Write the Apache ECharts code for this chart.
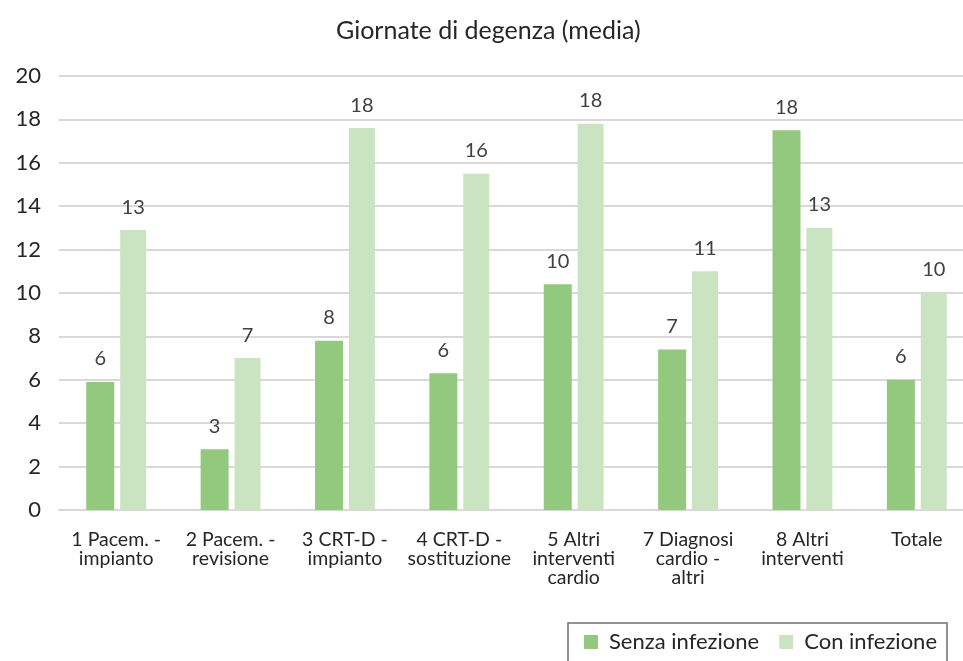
<!DOCTYPE html>
<html>
<head>
<meta charset="utf-8">
<script src="https://cdn.jsdelivr.net/npm/echarts@6/dist/echarts.min.js"></script>
<style>
  html, body { margin: 0; padding: 0; background: #ffffff; overflow: hidden; }
  /* the plot area runs slightly past the right edge of the page */
  #chart { width: 974px; height: 661px; }
</style>
</head>
<body>
<div id="chart"></div>
<script>
// Categorie di intervento (asse X)
const categories = [
  '1 Pacem. -\nimpianto',
  '2 Pacem. -\nrevisione',
  '3 CRT-D -\nimpianto',
  '4 CRT-D -\nsostituzione',
  '5 Altri\ninterventi\ncardio',
  '7 Diagnosi\ncardio -\naltri',
  '8 Altri\ninterventi',
  'Totale'
];

// Giornate medie di degenza
const senzaInfezione = [5.9, 2.8, 7.8, 6.3, 10.4, 7.4, 17.5, 6.0];
const conInfezione   = [12.9, 7.0, 17.6, 15.5, 17.8, 11.0, 13.0, 10.0];

const seriesNames = ['Senza infezione', 'Con infezione'];
const chartTitle = 'Giornate di degenza (media)';

const FONT = 'Lato, "Noto Sans", sans-serif';

const chart = echarts.init(document.getElementById('chart'), null, { renderer: 'canvas' });

const labelStyle = {
  show: true,
  position: 'top',
  distance: 13,
  color: '#404040',
  fontFamily: FONT,
  fontSize: 20,
  formatter: p => Math.round(p.value)
};

chart.setOption({
  animation: false,
  backgroundColor: '#ffffff',
  title: {
    text: chartTitle,
    left: 331,
    top: 13,
    textStyle: { fontFamily: FONT, fontSize: 25, fontWeight: 'normal', color: '#262626' }
  },
  legend: {
    left: 568,
    top: 623,
    icon: 'rect',
    itemWidth: 14,
    itemHeight: 14,
    itemGap: 20,
    padding: [8, 10, 30, 16],
    borderColor: '#6f6f6f',
    borderWidth: 1.5,
    textStyle: { fontFamily: FONT, fontSize: 22, color: '#262626', padding: [0, 0, 0, 6] },
    data: seriesNames
  },
  grid: { left: 59, right: 0, top: 76, bottom: 151, containLabel: false },
  xAxis: {
    type: 'category',
    data: categories,
    axisTick: { show: false },
    axisLine: { show: true, lineStyle: { color: '#d9d9d9', width: 2 } },
    axisLabel: {
      interval: 0,
      margin: 20,
      color: '#262626',
      fontFamily: FONT,
      fontSize: 19.5,
      lineHeight: 19,
      verticalAlign: 'top'
    }
  },
  yAxis: {
    type: 'value',
    min: 0,
    max: 20,
    interval: 2,
    axisLine: { show: false },
    axisTick: { show: false },
    splitLine: { lineStyle: { color: '#d9d9d9', width: 2 } },
    axisLabel: { margin: 18, color: '#262626', fontFamily: FONT, fontSize: 22 }
  },
  series: [
    {
      name: seriesNames[0],
      type: 'bar',
      data: senzaInfezione,
      barWidth: 28,
      barGap: '21%',
      itemStyle: { color: '#93c97f' },
      label: labelStyle
    },
    {
      name: seriesNames[1],
      type: 'bar',
      data: conInfezione,
      barWidth: 26,
      barGap: '21%',
      itemStyle: { color: '#cae4c2' },
      label: labelStyle
    }
  ]
});
</script>
</body>
</html>
